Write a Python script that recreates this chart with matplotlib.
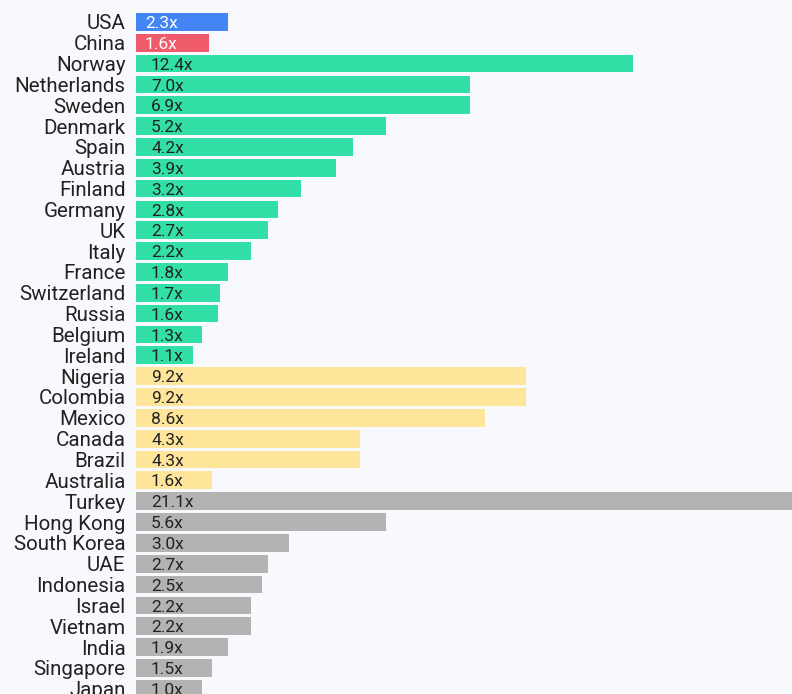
import matplotlib
matplotlib.use("Agg")
import matplotlib.pyplot as plt

countries = ["USA", "China", "Norway", "Netherlands", "Sweden", "Denmark", "Spain",
             "Austria", "Finland", "Germany", "UK", "Italy", "France", "Switzerland",
             "Russia", "Belgium", "Ireland", "Nigeria", "Colombia", "Mexico", "Canada",
             "Brazil", "Australia", "Turkey", "Hong Kong", "South Korea", "UAE",
             "Indonesia", "Israel", "Vietnam", "India", "Singapore", "Japan"]
value_labels = ["2.3x", "1.6x", "12.4x", "7.0x", "6.9x", "5.2x", "4.2x", "3.9x", "3.2x",
                "2.8x", "2.7x", "2.2x", "1.8x", "1.7x", "1.6x", "1.3x", "1.1x", "9.2x",
                "9.2x", "8.6x", "4.3x", "4.3x", "1.6x", "21.1x", "5.6x", "3.0x", "2.7x",
                "2.5x", "2.2x", "2.2x", "1.9x", "1.5x", "1.0x"]
bar_lengths = [2.3, 1.82, 12.42, 8.35, 8.35, 6.25, 5.42, 5.0, 4.12, 3.55, 3.3, 2.88,
               2.3, 2.1, 2.05, 1.65, 1.42, 9.75, 9.75, 8.72, 5.6, 5.6, 1.9, 21.1, 6.25,
               3.82, 3.3, 3.15, 2.88, 2.88, 2.3, 1.9, 1.65]
groups = ["us", "cn"] + ["eu"] * 15 + ["am"] * 6 + ["as"] * 10

group_colors = {"us": "#4385f5", "cn": "#ef5b6a", "eu": "#32e0a7",
                "am": "#ffe599", "as": "#b3b3b3"}
text_colors = {"us": "#ffffff", "cn": "#ffffff", "eu": "#222222",
               "am": "#222222", "as": "#222222"}

bg = "#f8f9fd"
W, H = 792, 694
fig = plt.figure(figsize=(W / 100, H / 100), dpi=100, facecolor=bg)
left = 136 / W
ax = fig.add_axes([left, 0, 1 - left, 1], facecolor=bg)

ys = list(range(len(countries)))
ax.barh(ys, bar_lengths, height=0.85, color=[group_colors[g] for g in groups])

px_per_unit = 40.0
ax.set_xlim(0, (W - 136) / px_per_unit)
pitch = 20.84
ax.set_ylim((H - 21.85) / pitch, -21.85 / pitch)

font = "Roboto"
ax.set_yticks(ys)
ax.set_yticklabels(countries, fontsize=14.8, color="#222222", family=font)
ax.tick_params(axis="y", length=0, pad=7.5)
ax.set_xticks([])
for s in ax.spines.values():
    s.set_visible(False)

for y, lab, g in zip(ys, value_labels, groups):
    xoff = 9 if g in ("us", "cn") else 15
    ax.annotate(lab, (0, y), xytext=(xoff * 0.72, -1.2), textcoords="offset points",
                va="center", ha="left", fontsize=12.5, color=text_colors[g], family=font)

fig.savefig("out.png", dpi=100, facecolor=bg)
